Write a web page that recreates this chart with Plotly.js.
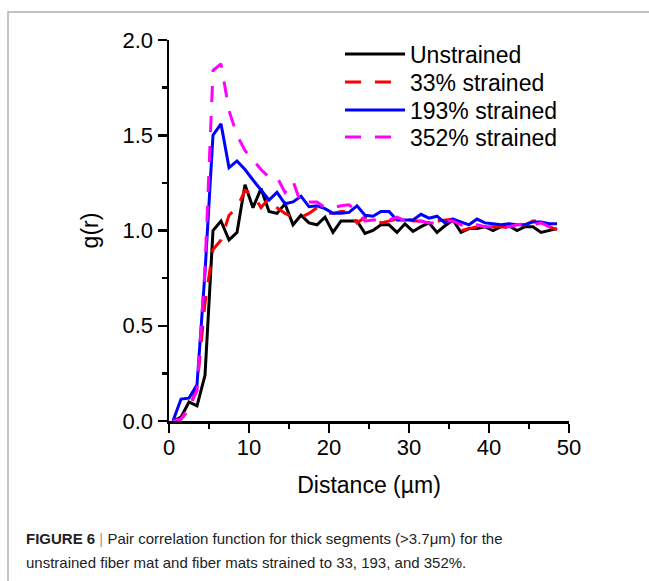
<!DOCTYPE html>
<html>
<head>
<meta charset="utf-8">
<script src="https://cdn.plot.ly/plotly-3.0.1.min.js"></script>
<style>html,body{margin:0;padding:0;background:#fff;}#chart{width:649px;height:581px;}</style>
</head>
<body>
<div id="chart"></div>
<script>
// Distance (µm), bin centres
const distance = [0.5,1.5,2.5,3.5,4.5,5.5,6.5,7.5,8.5,9.5,10.5,11.5,12.5,13.5,14.5,15.5,16.5,17.5,18.5,19.5,20.5,21.5,22.5,23.5,24.5,25.5,26.5,27.5,28.5,29.5,30.5,31.5,32.5,33.5,34.5,35.5,36.5,37.5,38.5,39.5,40.5,41.5,42.5,43.5,44.5,45.5,46.5,47.5,48.5];

const unstrained = [0,0.02,0.10,0.08,0.24,1.00,1.05,0.95,0.99,1.24,1.12,1.22,1.10,1.09,1.14,1.03,1.08,1.04,1.03,1.07,0.99,1.05,1.05,1.05,0.985,1.00,1.03,1.03,0.99,1.035,0.995,1.02,1.04,0.99,1.025,1.055,0.99,1.01,1.01,1.02,1.00,1.02,1.025,1.00,1.02,1.02,0.99,1.00,1.01];

const strained33 = [0,0.01,0.06,0.18,0.62,0.90,0.95,1.08,1.12,1.21,1.19,1.12,1.17,1.12,1.09,1.07,1.07,1.09,1.12,1.09,1.09,1.10,1.10,1.04,1.07,1.07,1.04,1.05,1.06,1.065,1.05,1.05,1.04,1.05,1.055,1.06,1.00,1.01,1.02,1.02,1.02,1.02,1.015,1.02,1.03,1.05,1.05,1.02,1.005];

const strained193 = [0,0.115,0.12,0.19,0.78,1.50,1.56,1.33,1.365,1.32,1.265,1.21,1.16,1.20,1.14,1.15,1.18,1.125,1.13,1.115,1.09,1.09,1.095,1.13,1.08,1.075,1.10,1.10,1.055,1.055,1.055,1.085,1.065,1.075,1.04,1.06,1.045,1.03,1.06,1.04,1.035,1.03,1.035,1.03,1.03,1.045,1.045,1.035,1.035];

const strained352 = [0,0.01,0.07,0.16,0.80,1.84,1.875,1.63,1.50,1.42,1.37,1.32,1.28,1.28,1.20,1.26,1.14,1.15,1.15,1.12,1.12,1.13,1.135,1.10,1.05,1.055,1.06,1.055,1.07,1.05,1.04,1.05,1.04,1.04,1.05,1.05,1.03,1.02,1.03,1.02,1.02,1.02,1.02,1.03,1.035,1.03,1.04,1.02,1.00];

const seriesNames = ["Unstrained","33% strained","193% strained","352% strained"];
const xTickVals = [0,10,20,30,40,50];
const yTickVals = [0,0.5,1.0,1.5,2.0];

const FONT = "Liberation Sans, Arial, sans-serif";
const DASH = "16px,14px";

const traces = [
  {x: distance, y: unstrained, name: seriesNames[0], mode: "lines", legend: "legend", line: {color: "#000000", width: 3}},
  {x: distance, y: strained33, name: seriesNames[1], mode: "lines", legend: "legend2", line: {color: "#ff0000", width: 3, dash: DASH}},
  {x: distance, y: strained193, name: seriesNames[2], mode: "lines", legend: "legend3", line: {color: "#0000ff", width: 3}},
  {x: distance, y: strained352, name: seriesNames[3], mode: "lines", legend: "legend4", line: {color: "#ff00ff", width: 3, dash: DASH}}
];

function px2x(px){ return (px-169)/400; }
function px2y(py){ return (421-py)/381; }

function legendAt(rowY){
  return {
    x: px2x(340), y: px2y(rowY), xanchor: "left", yanchor: "middle",
    bgcolor: "rgba(0,0,0,0)", borderwidth: 0,
    font: {family: FONT, size: 23, color: "#000"},
    itemwidth: 60
  };
}

const layout = {
  width: 649, height: 581,
  margin: {l:169, r:80, t:40, b:160},
  paper_bgcolor: "#ffffff", plot_bgcolor: "#ffffff",
  font: {family: FONT, color: "#000", size: 22},
  showlegend: true,
  legend: legendAt(54),
  legend2: legendAt(82),
  legend3: legendAt(110),
  legend4: legendAt(137),
  xaxis: {
    range: [0, 50], tickvals: xTickVals, ticktext: xTickVals.map(String),
    showline: true, linecolor: "#000", linewidth: 2.5, mirror: false,
    ticks: "outside", ticklen: 9, tickwidth: 2.5, tickcolor: "#000",
    minor: {ticks: "outside", dtick: 5, ticklen: 5, tickwidth: 2.5, tickcolor: "#000", showgrid: false},
    showgrid: false, zeroline: false, ticklabelstandoff: -4,
    tickfont: {family: FONT, size: 22, color: "#000"},
    title: {text: "Distance (µm)", font: {family: FONT, size: 23, color: "#000"}, standoff: 18}
  },
  yaxis: {
    range: [0, 2], tickvals: yTickVals, ticktext: yTickVals.map(v => v.toFixed(1)),
    showline: true, linecolor: "#000", linewidth: 2.5, mirror: false,
    ticks: "outside", ticklen: 9, tickwidth: 2.5, tickcolor: "#000",
    minor: {ticks: "outside", dtick: 0.25, ticklen: 5, tickwidth: 2.5, tickcolor: "#000", showgrid: false},
    showgrid: false, zeroline: false,
    tickfont: {family: FONT, size: 22, color: "#000"},
    title: {text: "g(r)", font: {family: FONT, size: 23, color: "#000"}, standoff: 18}
  },
  shapes: [
    {type: "rect", xref: "paper", yref: "paper", x0: px2x(8), x1: px2x(700), y0: px2y(640), y1: px2y(12),
     line: {color: "#b0b0b0", width: 1.5}, fillcolor: "rgba(0,0,0,0)", layer: "below"}
  ],
  annotations: [
    {xref: "paper", yref: "paper", x: px2x(24), y: px2y(538), xanchor: "left", yanchor: "middle", showarrow: false, align: "left",
     text: "<b>FIGURE 6</b> <span style='color:#999'>|</span> Pair correlation function for thick segments (>3.7μm) for the",
     font: {family: FONT, size: 15, color: "#222"}},
    {xref: "paper", yref: "paper", x: px2x(24), y: px2y(562), xanchor: "left", yanchor: "middle", showarrow: false, align: "left",
     text: "unstrained fiber mat and fiber mats strained to 33, 193, and 352%.",
     font: {family: FONT, size: 15, color: "#222"}}
  ]
};

Plotly.newPlot("chart", traces, layout, {displayModeBar: false, staticPlot: true});
</script>
</body>
</html>
